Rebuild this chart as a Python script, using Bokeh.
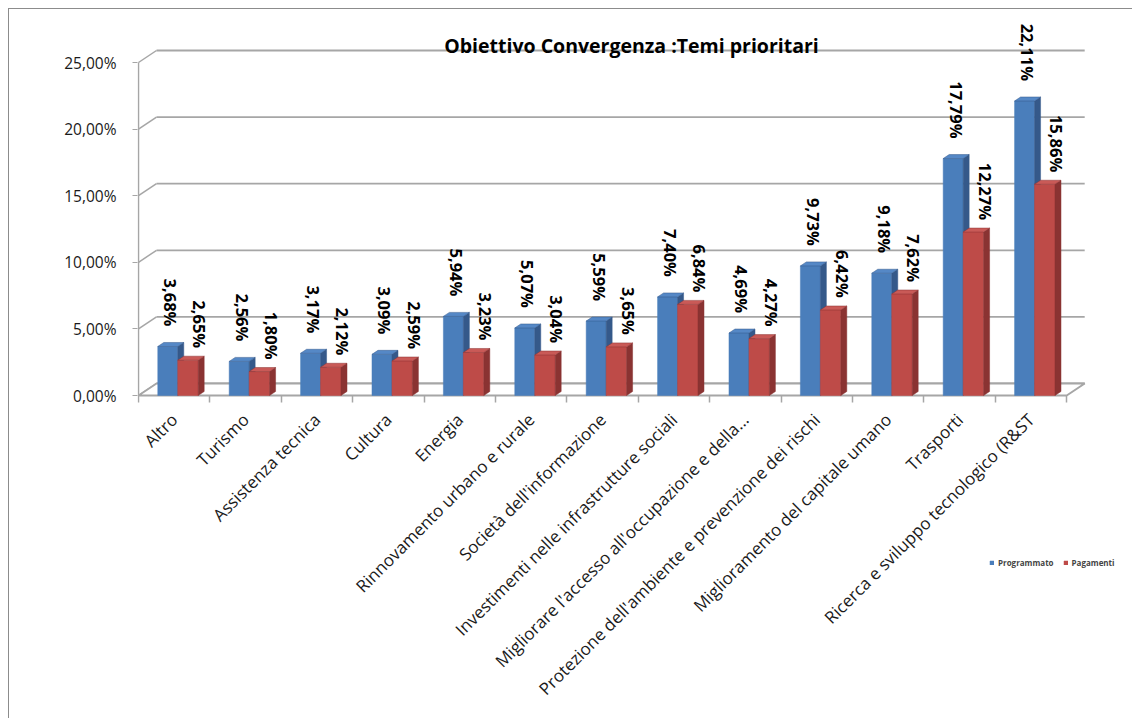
import math
from bokeh.plotting import figure
from bokeh.models import Range1d, FixedTicker, Legend, LegendItem, Label
from bokeh.embed import file_html
from bokeh.resources import INLINE
from bokeh.core.properties import value

# ---------------- data ----------------
categories = ["Altro", "Turismo", "Assistenza tecnica", "Cultura", "Energia",
              "Rinnovamento urbano e rurale", "Società dell'informazione",
              "Investimenti nelle infrastrutture sociali",
              "Migliorare l'accesso all'occupazione e della...",
              "Protezione dell'ambiente e prevenzione dei rischi",
              "Miglioramento del capitale umano", "Trasporti",
              "Ricerca e sviluppo tecnologico (R&ST"]
programmato = [3.68, 2.56, 3.17, 3.09, 5.94, 5.07, 5.59, 7.40, 4.69, 9.73, 9.18, 17.79, 22.11]
pagamenti = [2.65, 1.80, 2.12, 2.59, 3.23, 3.04, 3.65, 6.84, 4.27, 6.42, 7.62, 12.27, 15.86]
y_ticks = [0, 5, 10, 15, 20, 25]
y_tick_labels = ["0,00%", "5,00%", "10,00%", "15,00%", "20,00%", "25,00%"]
series_names = ["Programmato", "Pagamenti"]
title_text = "Obiettivo Convergenza :Temi prioritari"

# ---------------- geometry ----------------
W, H = 1124, 710
ML = 128
ZERO_Y = 386          # figure pixel row of the 0 % front line
PXU = 71.4            # px per category
PYU = 13.32           # px per percent
px = 1.0 / PXU
py = 1.0 / PYU
x0 = -0.5 - 1.0 * px
frame_w = W - ML
x_range = Range1d(x0, x0 + frame_w / PXU)
y_range = Range1d(-(H - ZERO_Y) / PYU, ZERO_Y / PYU)

FONT = value("Open Sans")
GRID = "#a6a6a6"

p = figure(width=W, height=H, x_range=x_range, y_range=y_range,
           output_backend="svg", toolbar_location=None, tools="",
           min_border_left=ML, min_border_right=0, min_border_top=0,
           min_border_bottom=0)
p.styles = {"margin-left": "8px", "margin-top": "8px",
            "border-left": "1px solid #8c8c8c", "border-top": "1px solid #8c8c8c"}
p.outline_line_color = None
p.xgrid.visible = False
p.ygrid.visible = False
p.background_fill_color = "white"
p.border_fill_color = "white"

n = len(categories)
DX, DY = 18 * px, 12 * py          # wall depth
bdx, bdy = 6 * px, 4 * py          # bar depth

# back wall gridlines and left wall diagonals
gx0, gx1, gy = [], [], []
for t in y_ticks:
    gx0.append(-0.5 + DX)
    gx1.append(n - 0.5 + DX)
    gy.append(t + DY)
p.segment(x0=gx0, y0=gy, x1=gx1, y1=gy, line_color=GRID, line_width=1.8)
p.segment(x0=[-0.5] * len(y_ticks), y0=y_ticks, x1=[-0.5 + DX] * len(y_ticks),
          y1=[t + DY for t in y_ticks], line_color=GRID, line_width=1.5)
# floor
p.patch(x=[-0.5, n - 0.5, n - 0.5 + DX, -0.5 + DX], y=[0, 0, DY, DY],
        fill_color="white", line_color=GRID, line_width=2)
# front vertical axis line
p.segment(x0=[-0.5], y0=[0], x1=[-0.5], y1=[y_ticks[-1]], line_color=GRID, line_width=1.5)

colors = {
    "Programmato": ("#4a7ebb", "#35598a", "#5588c6"),
    "Pagamenti": ("#be4b48", "#8a3332", "#c95a57"),
}
offsets = {"Programmato": (-0.23, 0.05), "Pagamenti": (0.05, 0.336)}
series_vals = {"Programmato": programmato, "Pagamenti": pagamenti}

front_renderers = {}
for name in series_names:
    vals = series_vals[name]
    front, side, top = colors[name]
    lo, hi = offsets[name]
    lefts = [i + lo for i in range(n)]
    rights = [i + hi for i in range(n)]
    r = p.quad(left=lefts, right=rights, bottom=[0] * n, top=vals,
               fill_color=front, line_color=front, line_width=0.5)
    front_renderers[name] = r
    sxs = [[rr, rr + bdx, rr + bdx, rr] for rr in rights]
    sys_ = [[0, bdy, v + bdy, v] for v in vals]
    p.patches(xs=sxs, ys=sys_, fill_color=side, line_color=side, line_width=0.5)
    txs = [[l, rr, rr + bdx, l + bdx] for l, rr in zip(lefts, rights)]
    tys = [[v, v, v + bdy, v + bdy] for v in vals]
    p.patches(xs=txs, ys=tys, fill_color=top, line_color=side, line_width=0.5)

# data labels
def fmt(v):
    return ("%.2f" % v).replace(".", ",") + "%"

lab_shift = {"Programmato": (-0.048, 20), "Pagamenti": (0.361, 12)}
for name in series_names:
    vals = series_vals[name]
    dxl, gap = lab_shift[name]
    p.text(x=[i + dxl for i in range(n)], y=[v + gap * py for v in vals],
           text=[fmt(v) for v in vals], angle=-math.pi / 2,
           text_align="right", text_baseline="middle",
           text_font=FONT, text_font_style="bold", text_font_size="16.5px",
           text_color="#000000")

# title
p.add_layout(Label(x=6.405, y=(ZERO_Y - 36) * py, text=title_text, text_align="center",
                   text_baseline="alphabetic", text_font="Open Sans",
                   text_font_style="bold", text_font_size="19.5px", text_color="#000000"))

# axes
ya = p.yaxis[0]
ya.ticker = FixedTicker(ticks=y_ticks)
ya.major_label_overrides = {t: l for t, l in zip(y_ticks, y_tick_labels)}
ya.axis_line_color = None
ya.major_tick_line_color = GRID
ya.major_tick_out = 5
ya.major_tick_in = 0
ya.minor_tick_line_color = None
ya.major_label_standoff = 16
ya.major_label_text_font = "Open Sans"
ya.major_label_text_font_size = "15.5px"
ya.major_label_text_color = "#1a1a1a"

xa = p.xaxis[0]
xa.fixed_location = 0
xa.ticker = FixedTicker(ticks=list(range(n)), minor_ticks=[i - 0.5 for i in range(n + 1)])
xa.major_label_overrides = {i: c for i, c in enumerate(categories)}
xa.major_label_orientation = math.pi / 4
xa.axis_line_color = None
xa.major_tick_line_color = None
xa.major_tick_out = 0
xa.major_tick_in = 0
xa.minor_tick_line_color = GRID
xa.minor_tick_out = 7
xa.minor_tick_in = 0
xa.minor_tick_line_width = 1.5
xa.major_label_standoff = 14
xa.major_label_text_font = "Open Sans"
xa.major_label_text_font_size = "17px"
xa.major_label_text_color = "#1a1a1a"

legend = Legend(items=[LegendItem(label=nm, renderers=[front_renderers[nm]]) for nm in series_names],
                orientation="horizontal", location=(852, 151),
                label_text_font="Open Sans",
                label_text_font_size="8px", label_text_font_style="bold",
                glyph_width=5, glyph_height=5, label_height=8, label_standoff=4,
                spacing=9, padding=0, margin=0, border_line_color=None,
                background_fill_alpha=0)
p.add_layout(legend)

open("out.html", "w").write(file_html(p, INLINE))
